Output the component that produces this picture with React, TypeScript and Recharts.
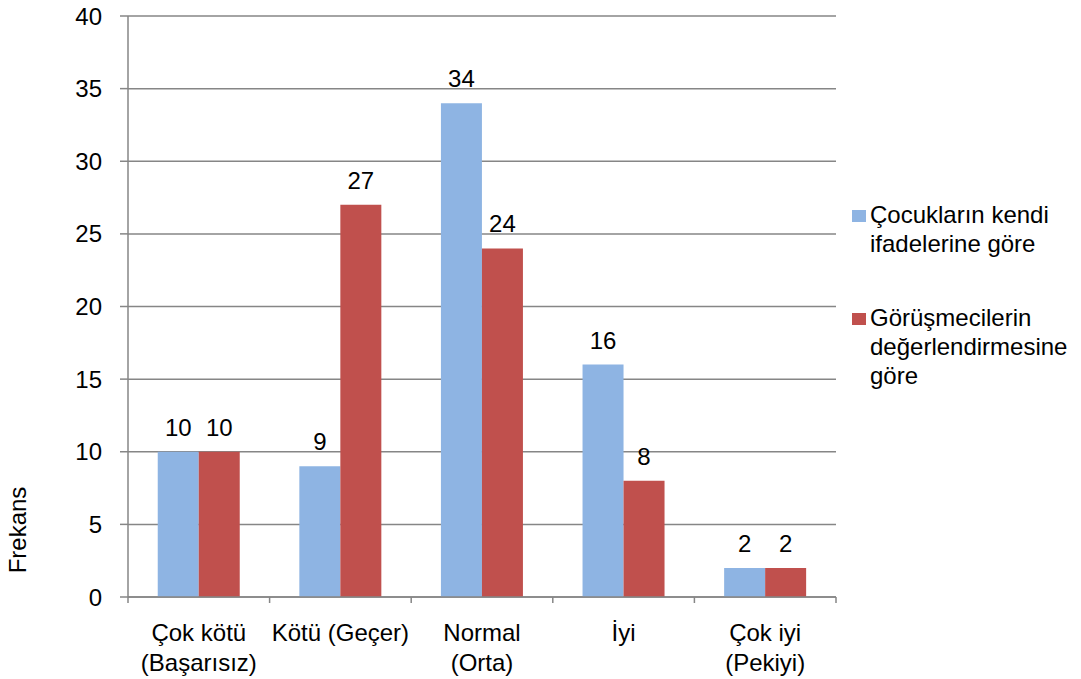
import { Bar, BarChart, CartesianGrid, LabelList, Legend, XAxis, YAxis } from 'recharts'

const categories = ['Çok kötü\n(Başarısız)', 'Kötü (Geçer)', 'Normal\n(Orta)', 'İyi', 'Çok iyi\n(Pekiyi)']
const cocuklar = [10, 9, 34, 16, 2]
const gorusmeciler = [10, 27, 24, 8, 2]
const yTicks = [0, 5, 10, 15, 20, 25, 30, 35, 40]

const seriesNames = ['Çocukların kendi ifadelerine göre', 'Görüşmecilerin değerlendirmesine göre']
const legendLines = [
  ['Çocukların kendi', 'ifadelerine göre'],
  ['Görüşmecilerin', 'değerlendirmesine', 'göre'],
]
const colors = ['#8EB4E3', '#C0504D']

const FONT = "'Liberation Sans', Arial, sans-serif"
const AXIS = '#868686'

const data = categories.map((c, i) => ({ name: c, a: cocuklar[i], b: gorusmeciler[i] }))

// label under each category plus the small marks on the band edges
function CategoryTick({ x, y, payload, index }: any) {
  const lines = String(payload.value).split('\n')
  const half = payload.offset ?? 0
  const last = index === categories.length - 1
  return (
    <g>
      <line x1={x - half} x2={x - half} y1={y} y2={y + 6} stroke={AXIS} strokeWidth={1.5} />
      {last && <line x1={x + half} x2={x + half} y1={y} y2={y + 6} stroke={AXIS} strokeWidth={1.5} />}
      <text x={x} y={y} textAnchor="middle" fill="#000" fontSize={24} fontFamily={FONT}>
        {lines.map((l, i) => (
          <tspan key={i} x={x} dy={i === 0 ? 44 : 30}>
            {l}
          </tspan>
        ))}
      </text>
    </g>
  )
}

function LegendBox() {
  return (
    <div style={{ fontFamily: FONT, fontSize: 24, lineHeight: '29px', color: '#000' }}>
      {legendLines.map((lines, i) => (
        <div key={seriesNames[i]} style={{ position: 'relative', paddingLeft: 18, marginBottom: i === 0 ? 45 : 0 }}>
          <span
            style={{
              position: 'absolute',
              left: 0,
              top: 10,
              width: 14,
              height: 12,
              background: colors[i],
            }}
          />
          {lines.map((l) => (
            <div key={l} style={{ whiteSpace: 'nowrap' }}>
              {l}
            </div>
          ))}
        </div>
      ))}
    </div>
  )
}

export default function App() {
  return (
    <div style={{ position: 'absolute', left: 0, top: 0, width: 1081, height: 679, background: '#fff' }}>
      <BarChart
        width={1081}
        height={679}
        data={data}
        margin={{ top: 16, right: 16, bottom: 0, left: 0 }}
        barCategoryGap="21%"
        barGap={0}
      >
        <CartesianGrid vertical={false} stroke={AXIS} strokeWidth={1.5} />
        <XAxis
          dataKey="name"
          height={82}
          stroke={AXIS}
          strokeWidth={1.5}
          tickLine={false}
          tickSize={0}
          tickMargin={0}
          interval={0}
          tick={<CategoryTick />}
        />
        <YAxis
          width={128}
          domain={[0, 40]}
          ticks={yTicks}
          stroke={AXIS}
          strokeWidth={1.5}
          tickSize={8}
          tickMargin={18}
          tick={{ fill: '#000', fontSize: 24, fontFamily: FONT }}
        />
        <Legend
          layout="vertical"
          align="right"
          verticalAlign="top"
          wrapperStyle={{ left: 852, top: 200, width: 229 }}
          content={() => <LegendBox />}
        />
        <Bar dataKey="a" name={seriesNames[0]} fill={colors[0]} isAnimationActive={false}>
          <LabelList dataKey="a" position="top" offset={16} fill="#000" fontSize={24} fontFamily={FONT} />
        </Bar>
        <Bar dataKey="b" name={seriesNames[1]} fill={colors[1]} isAnimationActive={false}>
          <LabelList dataKey="b" position="top" offset={16} fill="#000" fontSize={24} fontFamily={FONT} />
        </Bar>
      </BarChart>
      <div
        style={{
          position: 'absolute',
          left: -42,
          top: 515,
          width: 120,
          height: 30,
          lineHeight: '30px',
          textAlign: 'center',
          transform: 'rotate(-90deg)',
          fontFamily: FONT,
          fontSize: 24,
          color: '#000',
        }}
      >
        Frekans
      </div>
    </div>
  )
}
